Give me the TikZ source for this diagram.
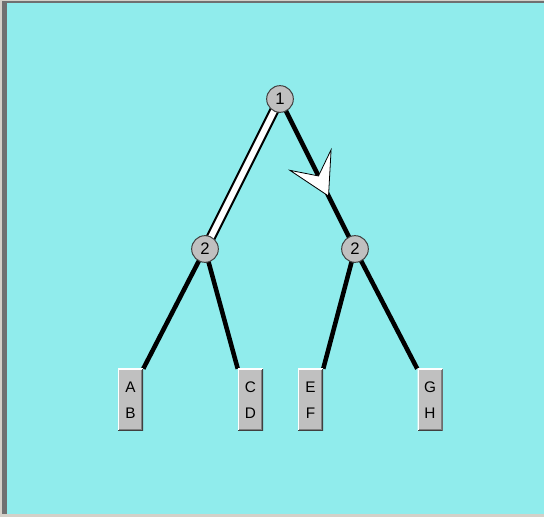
\documentclass[tikz,border=0pt]{standalone}
\usepackage{fontspec}
\setmainfont{Liberation Sans}
\usetikzlibrary{calc}
\pgfdeclarelayer{bglayer}
\pgfdeclarelayer{edgelayer}
\pgfsetlayers{bglayer,edgelayer,main}
\definecolor{bgcyan}{RGB}{144,236,236}
\definecolor{btngray}{RGB}{192,192,192}
\definecolor{darkedge}{RGB}{64,64,64}
\definecolor{shadowgray}{RGB}{128,128,128}
\definecolor{framelight}{RGB}{212,208,200}
\definecolor{framedark}{RGB}{112,112,112}
\begin{document}
\begin{tikzpicture}[x=0.75pt,y=-0.75pt,
  treenode/.style={circle, fill=btngray, draw=darkedge, line width=0.75pt,
    minimum size=20pt, inner sep=0pt, font=\fontsize{12.5}{12.5}\selectfont},
  leafbox/.style={rectangle, fill=btngray, minimum width=18.75pt,
    minimum height=46.5pt, inner sep=0pt, align=center,
    font=\fontsize{11.5}{19.5}\selectfont,
    path picture={
      \draw[white, line width=1.5pt] (path picture bounding box.south west)
        |- (path picture bounding box.north east);
      \draw[darkedge, line width=1.5pt] (path picture bounding box.north east)
        |- (path picture bounding box.south west);
      \draw[shadowgray, line width=0.75pt]
        ([xshift=-1.125pt,yshift=-0.75pt]path picture bounding box.north east)
        |- ([xshift=0.75pt,yshift=1.125pt]path picture bounding box.south west);
    }},
  plainedge/.style={line width=3.4pt, draw=black},
  chosenedge/.style={line width=1.6pt, draw=black, double=white, double distance=4.4pt},
  arrowmark/.style={fill=white, draw=black, line width=0.6pt, line join=miter}
]
\useasboundingbox (0,0) rectangle (544,517);
\begin{pgfonlayer}{bglayer}
  \fill[bgcyan] (0,0) rectangle (544,517);
  \fill[framelight] (0,0) rectangle (544,1);
  \fill[framedark] (2,1) rectangle (544,3);
  \fill[framelight] (0,0) rectangle (2,517);
  \fill[framedark] (2,1) rectangle (7,514);
  \fill[framelight] (0,514) rectangle (544,517);
\end{pgfonlayer}

\node[treenode] (n1) at (280,99) {1};
\node[treenode] (n2l) at (205,249) {2};
\node[treenode] (n2r) at (355,249) {2};

\node[leafbox] (ab) at (130.5,400) {A\\B};
\node[leafbox] (cd) at (250.5,400) {C\\D};
\node[leafbox] (ef) at (310.5,400) {E\\F};
\node[leafbox] (gh) at (430,400) {G\\H};

\begin{pgfonlayer}{edgelayer}
  \draw[chosenedge] (n1.center) -- (n2l.center);
  \draw[plainedge] (n1.center) -- (n2r.center);
  \draw[plainedge] (n2l.center) -- (ab.north east);
  \draw[plainedge] (n2l.center) -- (cd.north west);
  \draw[plainedge] (n2r.center) -- (ef.north east);
  \draw[plainedge] (n2r.center) -- (gh.north west);
  \coordinate (amid) at ($(n1)!0.407!(n2r)$);
  \coordinate (atip) at ($(n1)!0.647!(n2r)$);
  \coordinate (anotch) at ($(n1)!0.513!(n2r)$);
  \path[arrowmark] (atip) -- ($(amid)!17.25pt!90:(n2r)$) -- (anotch)
    -- ($(amid)!17.25pt!-90:(n2r)$) -- cycle;
\end{pgfonlayer}
\end{tikzpicture}
\end{document}
